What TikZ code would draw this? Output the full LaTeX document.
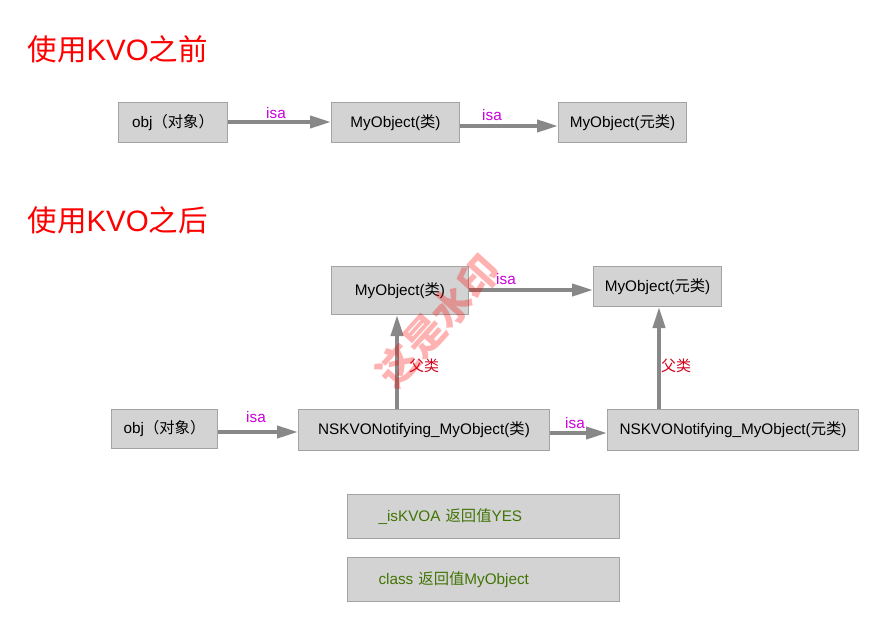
\documentclass[tikz,border=0pt]{standalone}
\usepackage{fontspec}
\setmainfont{Liberation Sans}
\newfontfamily\cjk{Noto Sans CJK SC}
\usetikzlibrary{arrows.meta}
\definecolor{boxfill}{HTML}{D3D3D3}
\definecolor{boxline}{HTML}{A3A3A3}
\definecolor{arrowgray}{HTML}{888888}
\definecolor{isacol}{HTML}{CC00DD}
\definecolor{parentcol}{HTML}{D0021B}
\definecolor{greentext}{HTML}{417505}
\tikzset{
  box/.style={draw=boxline, fill=boxfill, line width=1pt, anchor=north west, inner sep=0pt,
    font=\fontsize{15.3}{17}\selectfont, text=black},
  leftbox/.style={box, align=left, inner xsep=31pt, text=greentext},
  link/.style={draw=arrowgray, line width=4pt, -{Triangle[length=21pt,width=12pt]}},
  isalbl/.style={text=isacol, font=\fontsize{15.3}{17}\selectfont},
  parlbl/.style={text=parentcol, font=\fontsize{15}{17}\selectfont\cjk},
  title/.style={text=red, font=\fontsize{29.5}{32}\selectfont, anchor=west},
}
\begin{document}
\begin{tikzpicture}[x=1pt,y=-1pt]
\useasboundingbox (0,0) rectangle (896,631);
% titles
\node[title] (t1) at (24,49) {{\cjk 使用}KVO{\cjk 之前}};
\node[title] (t2) at (24,220) {{\cjk 使用}KVO{\cjk 之后}};
% top row
\node[box, minimum width=109pt, minimum height=40pt] (o1) at (118,102) {obj{\cjk （对象）}};
\node[box, minimum width=128pt, minimum height=40pt] (c1) at (331,102) {\raisebox{-3pt}{MyObject({\cjk 类})}};
\node[box, minimum width=128pt, minimum height=40pt] (m1) at (558,102) {MyObject({\cjk 元类})};
\draw[link] (o1.east |- 0,122) -- (c1.west |- 0,122);
\draw[link] (c1.east |- 0,126) -- (m1.west |- 0,126);
\node[isalbl] (i1) at (276,113) {isa};
\node[isalbl] (i2) at (492,115) {isa};
% second section
\node[box, minimum width=137pt, minimum height=48pt] (c2) at (331,266) {MyObject({\cjk 类})};
\node[box, minimum width=128pt, minimum height=40pt] (m2) at (593,266) {MyObject({\cjk 元类})};
\node[box, minimum width=106pt, minimum height=39pt] (o2) at (111,409) {obj{\cjk （对象）}};
\node[box, minimum width=251pt, minimum height=41pt] (n1) at (298,409) {NSKVONotifying\_MyObject({\cjk 类})};
\node[box, minimum width=251pt, minimum height=41pt] (n2) at (607,409) {NSKVONotifying\_MyObject({\cjk 元类})};
\draw[link] (c2.east |- 0,290) -- (m2.west |- 0,290);
\node[isalbl] (i3) at (506,279) {isa};
\draw[link] (o2.east |- 0,432) -- (n1.west |- 0,432);
\node[isalbl] (i4) at (256,417) {isa};
\draw[link] (n1.east |- 0,433) -- (n2.west |- 0,433);
\node[isalbl] (i5) at (575,423) {isa};
\draw[link] (n1.north -| 397,0) -- (c2.south -| 397,0);
\node[parlbl] (p1) at (424,366) {父类};
\draw[link] (n2.north -| 659,0) -- (m2.south -| 659,0);
\node[parlbl] (p2) at (676,366) {父类};
% bottom boxes
\node[leftbox, text width=210pt, minimum height=44pt] (b1) at (347,494) {\_isKVOA {\cjk 返回值}YES};
\node[leftbox, text width=210pt, minimum height=44pt] (b2) at (347,557) {class {\cjk 返回值}MyObject};
% watermark
\node[text=red, opacity=0.3, rotate=48, font=\fontsize{40}{42}\selectfont\cjk\bfseries] (wm) at (438,321) {这是水印};
\end{tikzpicture}
\end{document}
